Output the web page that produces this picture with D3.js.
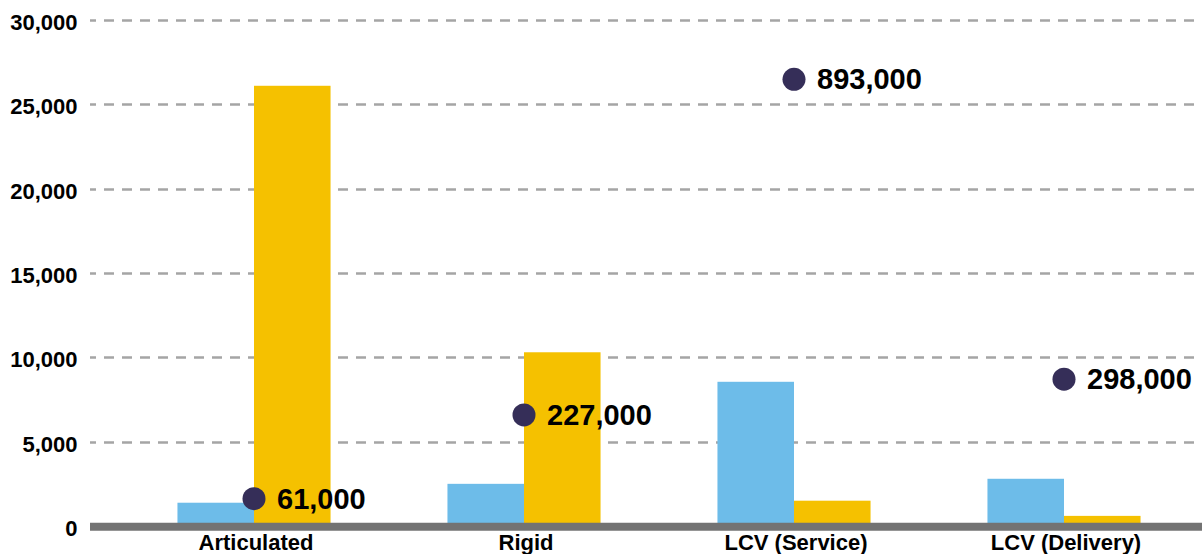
<!DOCTYPE html>
<html>
<head>
<meta charset="utf-8">
<script src="https://cdn.jsdelivr.net/npm/d3@7"></script>
<style>
  html, body { margin: 0; padding: 0; background: #fff; }
  svg { display: block; }
  text { font-family: "Liberation Sans", Arial, sans-serif; font-weight: bold; fill: #000; }
</style>
</head>
<body>
<svg id="chart" width="1202" height="554"></svg>
<script>
const categories = ["Articulated", "Rigid", "LCV (Service)", "LCV (Delivery)"];
const seriesBlue = [1380, 2500, 8550, 2800];
const seriesYellow = [26100, 10300, 1500, 600];
const dotValues = [61000, 227000, 893000, 298000];
const dotLabels = ["61,000", "227,000", "893,000", "298,000"];
const yTicks = [0, 5000, 10000, 15000, 20000, 25000, 30000];

const svg = d3.select("#chart");
const W = 1202, H = 554;

const x = d3.scaleBand().domain(categories).range([119, 1199]).paddingInner(0.433).paddingOuter(0.2165);
const y = d3.scaleLinear().domain([0, 30000]).range([526, 20]);
const y2 = d3.scaleLinear().domain([0, 1000000]).range([529.4, 25.4]);

// gridlines
svg.append("g").selectAll("line").data(yTicks.filter(d => d > 0)).join("line")
  .attr("x1", 90).attr("x2", W)
  .attr("y1", d => Math.round(y(d)) + 0.5).attr("y2", d => Math.round(y(d)) + 0.5)
  .attr("stroke", "#a5a5a5").attr("stroke-width", 2.5)
  .attr("stroke-dasharray", "10,8").attr("stroke-dashoffset", 4);

// y axis labels
const yAxis = d3.axisLeft(y).tickValues(yTicks).tickFormat(d3.format(",")).tickSize(0).tickPadding(0);
const ga = svg.append("g").attr("transform", "translate(77.5,0)").call(yAxis);
ga.select(".domain").remove();
ga.selectAll("text").attr("font-size", 22).attr("font-family", "Liberation Sans, Arial, sans-serif")
  .attr("font-weight", "bold").attr("fill", "#000").attr("dy", "0.43em");

// bars
const half = x.bandwidth() / 2;
svg.append("g").selectAll("rect").data(categories).join("rect")
  .attr("x", d => x(d)).attr("width", half)
  .attr("y", (d, i) => y(seriesBlue[i])).attr("height", (d, i) => y(0) - y(seriesBlue[i]))
  .attr("fill", "#6dbce9");
svg.append("g").selectAll("rect").data(categories).join("rect")
  .attr("x", d => x(d) + half).attr("width", half)
  .attr("y", (d, i) => y(seriesYellow[i])).attr("height", (d, i) => y(0) - y(seriesYellow[i]))
  .attr("fill", "#f5c100");

// baseline axis
svg.append("line").attr("x1", 90).attr("x2", W).attr("y1", 526.7).attr("y2", 526.7)
  .attr("stroke", "#737373").attr("stroke-width", 8);

// x labels
const xAxis = d3.axisBottom(x).tickSize(0).tickPadding(0);
const gx = svg.append("g").attr("transform", "translate(2,0)").call(xAxis);
gx.select(".domain").remove();
gx.selectAll("text").attr("font-size", 22).attr("font-family", "Liberation Sans, Arial, sans-serif")
  .attr("font-weight", "bold").attr("fill", "#000").attr("y", 549.5).attr("dy", 0);

// dots + labels
const cx = d => x(d) + half;
svg.append("g").selectAll("circle").data(categories).join("circle")
  .attr("cx", cx).attr("cy", (d, i) => y2(dotValues[i])).attr("r", 11.5)
  .attr("fill", "#352e58");
svg.append("g").selectAll("text").data(categories).join("text")
  .attr("x", d => cx(d) + 23).attr("y", (d, i) => y2(dotValues[i]))
  .attr("dy", "0.34em").attr("font-size", 29)
  .text((d, i) => dotLabels[i]);
</script>
</body>
</html>
